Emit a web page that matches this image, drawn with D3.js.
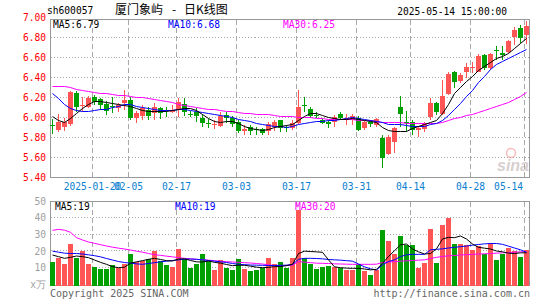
<!DOCTYPE html>
<html>
<head>
<meta charset="utf-8">
<script src="https://cdn.jsdelivr.net/npm/d3@7"></script>
<style>
  body { margin: 0; background: #fff; }
  text { font-family: 'DejaVu Sans Mono', monospace; font-size: 9.6px; }
</style>
</head>
<body>
<script>
// trading days shown (2025)
const dates = ['01-09','01-10','01-13','01-14','01-15','01-16','01-17','01-20','01-21','01-22','01-23','01-24','01-27',
  '02-05','02-06','02-07','02-10','02-11','02-12','02-13','02-14','02-17','02-18','02-19','02-20','02-21','02-24','02-25','02-26','02-27','02-28',
  '03-03','03-04','03-05','03-06','03-07','03-10','03-11','03-12','03-13','03-14','03-17','03-18','03-19','03-20','03-21','03-24','03-25','03-26','03-27','03-28','03-31',
  '04-01','04-02','04-03','04-07','04-08','04-09','04-10','04-11','04-14','04-15','04-16','04-17','04-18','04-21','04-22','04-23','04-24','04-25','04-28','04-29','04-30',
  '05-06','05-07','05-08','05-09','05-12','05-13','05-14'];

const open = [5.93,5.88,5.91,5.94,6.25,6.12,6.11,6.21,6.19,6.14, 6.12,6.10,6.15,6.18,6.00,6.02,6.08,6.05,6.10,6.08,
  6.06,6.08,6.14,6.04,6.06,6.00,5.95,5.93,5.92,6.03, 6.00,5.96,5.87,5.91,5.89,5.89,5.87,5.91,5.98,5.91,
  5.90,5.95,6.13,6.09,6.03,5.98,5.96,5.96,6.04,5.99, 5.98,6.00,5.90,5.96,5.93,5.80,5.64,5.76,6.11,5.96,
  5.96,5.88,5.89,6.01,6.15,6.04,6.24,6.46,6.37,6.46, 6.50,6.46,6.63,6.50,6.68,6.65,6.66,6.81,6.90,6.83];
const high = [5.99,6.04,6.00,6.27,6.27,6.21,6.22,6.23,6.20,6.17, 6.21,6.15,6.28,6.21,6.07,6.13,6.11,6.15,6.11,6.11,
  6.13,6.20,6.20,6.07,6.10,6.04,5.99,5.98,6.06,6.06, 6.02,5.98,5.93,5.93,5.91,5.90,5.96,5.98,5.98,5.93,
  5.98,6.28,6.21,6.11,6.06,6.00,5.98,6.03,6.06,6.04, 6.04,6.02,5.98,5.98,6.00,5.83,5.83,5.91,6.22,6.07,
  5.98,5.92,5.96,6.20,6.16,6.38,6.46,6.47,6.45,6.55, 6.56,6.64,6.64,6.65,6.72,6.72,6.78,6.91,6.93,6.97];
const low = [5.84,5.86,5.87,5.92,6.06,6.06,6.10,6.13,6.08,6.03, 6.05,6.06,6.08,5.98,5.95,5.98,5.98,5.98,5.99,6.01,
  6.05,6.01,6.02,6.01,5.96,5.91,5.90,5.89,5.91,5.95, 5.91,5.85,5.83,5.83,5.83,5.83,5.83,5.87,5.86,5.86,
  5.88,5.93,6.06,6.00,6.00,5.94,5.90,5.91,5.98,5.93, 5.93,5.87,5.88,5.91,5.91,5.50,5.63,5.65,5.91,5.87,
  5.83,5.81,5.86,5.98,6.03,6.03,6.23,6.30,6.35,6.40, 6.45,6.46,6.48,6.48,6.58,6.58,6.65,6.73,6.75,6.74];
const close = [5.92,5.96,5.96,6.26,6.11,6.13,6.20,6.16,6.13,6.07, 6.11,6.13,6.18,6.00,6.05,6.10,6.02,6.11,6.05,6.07,
  6.08,6.16,6.06,6.03,6.02,5.95,5.94,5.94,6.02,6.00, 5.94,5.87,5.89,5.87,5.88,5.85,5.94,5.96,5.90,5.90,
  5.95,6.11,6.12,6.02,6.02,5.95,5.94,6.01,6.00,6.00, 6.02,5.88,5.96,5.94,5.99,5.60,5.81,5.90,6.04,5.95,
  5.88,5.90,5.95,6.15,6.06,6.22,6.44,6.36,6.43,6.51, 6.51,6.62,6.50,6.64,6.67,6.63,6.77,6.88,6.80,6.92];

// price moving averages as drawn
const ma5 = [6.01,5.97,5.95,5.99,6.04,6.09,6.13,6.16,6.16,6.15, 6.14,6.13,6.12,6.11,6.09,6.07,6.06,6.06,6.06,6.06,
  6.07,6.08,6.09,6.09,6.07,6.03,5.99,5.96,5.95,5.96, 5.96,5.94,5.91,5.89,5.88,5.87,5.88,5.90,5.91,5.92,
  5.93,5.97,6.01,6.04,6.04,6.02,6.00,5.99,5.98,5.98, 5.99,5.98,5.97,5.96,5.95,5.90,5.87,5.86,5.86,5.86,
  5.89,5.91,5.93,5.95,5.97,6.04,6.13,6.24,6.30,6.36, 6.41,6.47,6.51,6.55,6.59,6.61,6.64,6.69,6.74,6.79];
const ma10 = [6.24,6.19,6.13,6.09,6.07,6.06,6.06,6.07,6.08,6.08, 6.10,6.11,6.13,6.13,6.11,6.10,6.09,6.08,6.07,6.07,
  6.07,6.08,6.08,6.07,6.06,6.05,6.04,6.03,6.02,6.01, 6.00,5.98,5.97,5.96,5.94,5.93,5.92,5.91,5.91,5.90,
  5.91,5.93,5.94,5.95,5.96,5.96,5.97,5.97,5.98,5.99, 6.00,5.99,5.98,5.97,5.96,5.95,5.93,5.93,5.93,5.92,
  5.91,5.91,5.91,5.93,5.94,5.97,6.02,6.08,6.14,6.21, 6.27,6.35,6.41,6.48,6.53,6.56,6.59,6.62,6.65,6.68];
const ma30 = [6.31,6.31,6.31,6.30,6.28,6.27,6.26,6.25,6.24,6.24, 6.23,6.22,6.22,6.21,6.20,6.20,6.19,6.18,6.17,6.16,
  6.15,6.13,6.12,6.11,6.10,6.09,6.08,6.08,6.07,6.06, 6.06,6.05,6.04,6.04,6.03,6.03,6.03,6.02,6.01,6.01,
  6.01,6.00,6.00,6.00,5.99,5.99,5.98,5.98,5.98,5.98, 5.98,5.97,5.97,5.97,5.96,5.95,5.95,5.95,5.95,5.94,
  5.94,5.94,5.94,5.94,5.94,5.95,5.97,5.99,6.00,6.02, 6.03,6.05,6.07,6.09,6.11,6.13,6.15,6.18,6.21,6.25];

// volume (x万 lots) and its averages
const volume = [13,15.8,11.8,24.3,15.8,20.1,11.8,10.2,9,9, 11.4,9.8,11.8,18,13,13.8,15,19.7,13.8,11.4,
  10.2,20.9,15,9.4,11.8,17.8,13.8,8.4,14.4,9.8, 8.4,15,9,7.8,8.4,9.8,15.8,11.8,13,9.8,
  15.8,44.4,15.8,11.8,9,10.4,11,10.4,9.4,8.4, 8.4,11.8,7.8,5.5,8.4,32.4,25.8,18.3,28.8,23.4,
  23.4,9.4,12.8,33,12.8,35.4,39.9,24,24,23.4, 20.4,23,18.3,24.4,14.4,18.3,21.8,19.7,16.4,20.4];
const volMa5 = [17.4,16.4,15.4,16,16.8,16.4,15.8,14.4,13,11.8, 10.4,9.8,10.1,12.5,13.3,14,14.8,15.4,14.7,14,
  13.8,15,15.1,14.1,13.3,13.2,13.8,13,12.5,11.7, 11,11.3,11.2,10.7,10.1,9.8,10,10.4,10.5,11,
  11.8,18.3,19.7,19.5,19.3,19,14.5,10.3,9.8,9.5, 9.4,9.4,9,8.5,8.8,12.4,16.5,20,23.5,24,
  21,19.3,18,18.3,21.1,27,28,27.8,28.8,27, 24,22,21.5,21,19.8,19.3,18.5,18.3,18.7,18.7];
const volMa10 = [19.7,19.1,18.5,18.3,18.3,18,17.5,17,16.3,15.3, 14.4,13.5,12.9,12.5,12.1,11.8,12.3,12.8,13.3,13.7,
  14.1,14.5,14.9,15,14.8,14.5,14.1,13.7,13.3,12.9, 12.3,11.8,11.6,11.4,11.3,11.2,11.1,11.1,11.2,11.3,
  11.7,14.8,15.4,15.4,15.3,15.1,14.7,14.5,14.3,14, 13.7,12,10.3,9.1,8.4,11.5,13.5,14.5,16.5,17.5,
  17.8,17.8,17.8,20.5,20.8,21.1,21.6,22,22.4,22.8, 23.3,23.7,24.1,24.3,24.3,23.8,22.7,21.6,20.5,19];
const volMa30 = [32.2,32.8,32.3,31,27.8,26.4,25.2,24.4,23.6,22.8, 22.1,21.5,21,20.4,19.7,19.1,18.3,17.6,17.2,16.7,
  16.3,15.8,15.4,15.1,14.8,14.6,14.3,14,13.6,13.4, 13.2,13,12.8,12.6,12.3,12,11.5,11.1,11.1,11.1,
  11.3,13.5,13.1,12.8,12.5,12.4,12.3,12.1,12,11.9, 11.8,11.8,11.8,11.8,11.9,12.9,13.2,13.4,13.7,13.9,
  14.1,14.3,14.5,15.3,16,16.5,16.9,17.1,17.4,17.6, 17.8,18,18.1,18.3,18.5,18.7,18.9,19.1,19.3,19.5];

// axis ticks
const tickDates = ['01-20','02-05','02-17','03-03','03-17','03-31','04-14','04-28','05-14'];
const priceTicks = [5.4, 5.6, 5.8, 6.0, 6.2, 6.4, 6.6, 6.8, 7.0];
const volTicks = [0, 10, 20, 30, 40, 50];

const svgWidth = 545, svgHeight = 300;
const left = 50.5, right = 529.5;
const priceTop = 19.5, priceBottom = 177.5;
const volTop = 201.5, volBottom = 285.5;
const up = '#ff5555', down = '#00a000', gridColor = '#a8a8a8';

const svg = d3.select('body').append('svg')
  .attr('width', svgWidth)
  .attr('height', svgHeight);

const xScale = d3.scalePoint().domain(dates).range([52.5, 526.5]);
const yScale = d3.scaleLinear().domain([5.4, 7.0]).range([177.5, 17.5]);
const vScale = d3.scaleLinear().domain([0, 50]).range([284, 200.67]);
const gridX = d => xScale(d) - 2;
const rows = dates.map((d, i) => ({ d, o: open[i], h: high[i], l: low[i], c: close[i], v: volume[i] }));

// grid lines
const grid = svg.append('g').attr('shape-rendering', 'crispEdges');
[[priceTop, priceBottom], [volTop, volBottom]].forEach(([t, b]) => {
  grid.selectAll(null).data(tickDates).join('line')
    .attr('x1', gridX).attr('x2', gridX).attr('y1', t).attr('y2', b)
    .attr('stroke', gridColor).attr('stroke-dasharray', '5,3');
});
grid.selectAll(null).data(priceTicks.slice(1, -1)).join('line')
  .attr('x1', left).attr('x2', right)
  .attr('y1', d => Math.floor(yScale(d)) + 0.5).attr('y2', d => Math.floor(yScale(d)) + 0.5)
  .attr('stroke', gridColor).attr('stroke-dasharray', '1,2');
grid.selectAll(null).data(volTicks.slice(1, -1)).join('line')
  .attr('x1', left).attr('x2', right)
  .attr('y1', d => Math.floor(vScale(d)) + 0.5).attr('y2', d => Math.floor(vScale(d)) + 0.5)
  .attr('stroke', gridColor).attr('stroke-dasharray', '1,2');

// panel borders
[[priceTop, priceBottom], [volTop, volBottom]].forEach(([t, b]) => {
  svg.append('rect').attr('x', left).attr('y', t).attr('width', right - left).attr('height', b - t)
    .attr('fill', 'none').attr('stroke', '#999').attr('shape-rendering', 'crispEdges');
});

// sina watermark
const wm = svg.append('g').attr('opacity', 0.55);
wm.append('circle').attr('cx', 511).attr('cy', 153).attr('r', 4.5)
  .attr('fill', 'none').attr('stroke', '#e88').attr('stroke-width', 1.5);
wm.append('text').attr('x', 497).attr('y', 171)
  .style('font-family', 'Liberation Sans').style('font-size', '16px')
  .style('font-style', 'italic').style('font-weight', 'bold')
  .attr('fill', '#b9a9a9').text('sina');

// candles
const candles = svg.append('g').attr('shape-rendering', 'crispEdges');
candles.selectAll('line').data(rows).join('line')
  .attr('x1', r => xScale(r.d)).attr('x2', r => xScale(r.d))
  .attr('y1', r => yScale(r.h)).attr('y2', r => yScale(r.l))
  .attr('stroke', r => r.c >= r.o ? up : down);
candles.selectAll('rect').data(rows).join('rect')
  .attr('x', r => xScale(r.d) - 2.5).attr('width', 5)
  .attr('y', r => yScale(Math.max(r.o, r.c)))
  .attr('height', r => Math.max(1, yScale(Math.min(r.o, r.c)) - yScale(Math.max(r.o, r.c))))
  .attr('fill', r => r.c >= r.o ? up : down);

// volume bars
svg.append('g').attr('shape-rendering', 'crispEdges')
  .selectAll('rect').data(rows).join('rect')
  .attr('x', r => xScale(r.d) - 2.5).attr('width', 5)
  .attr('y', r => vScale(r.v)).attr('height', r => volBottom - vScale(r.v))
  .attr('fill', r => r.c >= r.o ? up : down);

// moving average lines
const drawLine = (vals, scale, color) => {
  const line = d3.line().x((v, i) => xScale(dates[i])).y(v => scale(v));
  svg.append('path').datum(vals)
    .attr('fill', 'none').attr('stroke', color).attr('stroke-width', 1).attr('d', line);
};
drawLine(ma30, yScale, '#ff00ff');
drawLine(ma10, yScale, '#0000ff');
drawLine(ma5, yScale, '#000');
drawLine(volMa30, vScale, '#ff00ff');
drawLine(volMa10, vScale, '#0000ff');
drawLine(volMa5, vScale, '#000');

// axes
const yAxis = svg.append('g').attr('transform', `translate(${left - 0.5}, 0)`)
  .call(d3.axisLeft(yScale).tickValues(priceTicks).tickFormat(d3.format('.2f')).tickSize(0).tickPadding(4));
yAxis.select('.domain').remove();
yAxis.selectAll('text').attr('fill', '#ff0000').attr('dy', '0.35em').style('font-size', '9.6px');

const vAxis = svg.append('g').attr('transform', `translate(${left - 0.5}, 0)`)
  .call(d3.axisLeft(vScale).tickValues(volTicks).tickFormat(d => d === 0 ? 'x万' : d).tickSize(0).tickPadding(4));
vAxis.select('.domain').remove();
vAxis.selectAll('text').attr('fill', '#a0a0a0').attr('dy', '0.35em').style('font-size', '9.6px');

const xAxis = svg.append('g').attr('transform', 'translate(-2.5, 183)')
  .call(d3.axisBottom(xScale).tickValues(tickDates)
    .tickFormat(d => d === '01-20' ? '2025-01-20' : d).tickSize(0).tickPadding(0));
xAxis.select('.domain').remove();
xAxis.selectAll('text').attr('fill', '#0a80d0').style('font-size', '9.6px');
xAxis.selectAll('text').filter(d => d === tickDates[tickDates.length - 1])
  .attr('text-anchor', 'end').attr('dx', -1.5);

// header texts
const label = (x, y, txt, color, anchor) => svg.append('text')
  .attr('x', x).attr('y', y).attr('dy', '0.35em')
  .attr('text-anchor', anchor || 'start').attr('fill', color).text(txt);

label(47, 11, 'sh600057', '#000');
const cjk = (x, txt, anchor) => svg.append('text').attr('x', x).attr('y', 10).attr('dy', '0.35em')
  .attr('text-anchor', anchor || 'start')
  .style('font-family', "'Noto Sans CJK SC'").style('font-size', '12px')
  .attr('fill', '#000').text(txt);
cjk(115, '厦门象屿');
cjk(174, '-', 'middle');
cjk(184, '日K线图');
label(507, 12, '2025-05-14 15:00:00', '#000', 'end');

const last = dates.length - 1;
label(53, 24.5, 'MA5:' + ma5[last].toFixed(2), '#000');
label(168, 24.5, 'MA10:' + ma10[last].toFixed(2), '#0000ff');
label(283, 24.5, 'MA30:' + ma30[last].toFixed(2), '#ff00ff');

label(55, 207, 'MA5:' + Math.round(volMa5[last]), '#000');
label(175, 207, 'MA10:' + Math.round(volMa10[last]), '#0000ff');
label(295, 207, 'MA30:' + Math.round(volMa30[last]), '#ff00ff');

label(50, 293, 'Copyright 2025 SINA.COM', '#666').style('font-size', '10px');
label(530, 293, 'http://finance.sina.com.cn', '#666', 'end').style('font-size', '10px');
</script>
</body>
</html>
